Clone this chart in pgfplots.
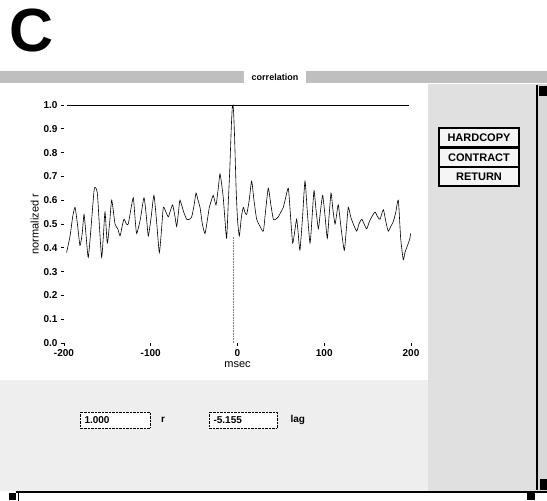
\documentclass[border=0pt]{standalone}
\usepackage{fontspec}
\setmainfont{Liberation Sans}
\usepackage{pgfplots}
\pgfplotsset{compat=1.18}
\pgfplotstableread{
ms v
-197 0.38
-193 0.45
-190 0.53
-187.3 0.57
-184.5 0.50
-181.6 0.41
-179 0.46
-176.9 0.54
-174.5 0.45
-172 0.36
-168.5 0.50
-165 0.65
-161.6 0.63
-159 0.48
-156.6 0.36
-154.6 0.45
-152.7 0.55
-150.1 0.42
-147.5 0.50
-145 0.60
-141.2 0.50
-138 0.48
-135.4 0.45
-133 0.49
-130.8 0.52
-128 0.50
-125.9 0.50
-123 0.56
-120.1 0.61
-118 0.52
-116.2 0.46
-112 0.52
-107.8 0.61
-105 0.53
-102.8 0.45
-99.5 0.53
-96.3 0.62
-93 0.50
-90.1 0.38
-87.5 0.48
-85.5 0.57
-82.5 0.55
-79.7 0.53
-77 0.56
-74.7 0.58
-72 0.53
-70.1 0.49
-68 0.55
-66.3 0.60
-62 0.55
-58.6 0.52
-55.5 0.52
-52.8 0.53
-50 0.58
-47.8 0.63
-45.5 0.60
-43.2 0.57
-40.5 0.50
-37.5 0.46
-35 0.51
-32.5 0.57
-30 0.60
-27.9 0.62
-24.8 0.58
-22.5 0.64
-20.2 0.71
-18 0.66
-16.4 0.61
-14.5 0.52
-12.5 0.44
-10.5 0.60
-9 0.72
-8 0.82
-7 0.92
-6 0.99
-5.2 1.00
-4.5 0.97
-3.5 0.88
-2.5 0.76
-1.5 0.64
0 0.52
2.1 0.45
4.5 0.53
6.7 0.57
8.5 0.55
10.6 0.54
13.5 0.60
16.3 0.68
19 0.60
22.1 0.52
26 0.49
29.8 0.47
32.5 0.56
35.5 0.65
38.5 0.58
41.3 0.52
44 0.52
47 0.53
50 0.55
52.8 0.57
55.5 0.61
58.6 0.65
61 0.54
63.6 0.42
66 0.47
68.2 0.52
70 0.46
72 0.39
75 0.53
77.8 0.68
80.5 0.55
83.6 0.42
86 0.53
88.2 0.64
90.5 0.56
93.2 0.48
95.5 0.55
98.2 0.62
101 0.53
103.5 0.44
105.5 0.53
107.8 0.63
110 0.56
112.4 0.50
114.3 0.54
116.2 0.58
119.5 0.48
123.1 0.39
125.5 0.48
127.7 0.57
130.5 0.53
133.5 0.50
137.4 0.47
140 0.50
143.2 0.52
146 0.50
148.9 0.48
152 0.51
154.7 0.53
158.5 0.55
161.5 0.53
164.3 0.52
168.1 0.56
171 0.51
173.8 0.47
176.7 0.49
179.6 0.51
182.5 0.55
185.4 0.60
188.1 0.44
191.1 0.35
193 0.38
195 0.40
197 0.42
198.8 0.44
199.5 0.46
}\corrdata
\begin{document}
\begin{tikzpicture}[x=1pt,y=1pt]
\useasboundingbox (0,0) rectangle (547,501);
\fill[white] (0,0) rectangle (547,501);
% background panels
\fill[gray!13] (0,10) rectangle (430,121);
\fill[gray!24] (428,10) rectangle (537,417);
\fill[gray!30] (537,10) rectangle (547,417);
% title bar
\fill[gray!50] (0,418) rectangle (547,430);
\fill[white] (244,417) rectangle (306,432);
\node[font=\bfseries\fontsize{9}{10}\selectfont] at (275,423.5) {correlation};
% scrollbar and frame
\draw[line width=1.6pt] (537,11) -- (537,416);
\fill[black] (539,405) rectangle (547,415);
\draw[line width=1.2pt] (16,9) -- (547,9);
\draw[line width=1pt] (18,0) -- (18,9);
\fill (9,1) rectangle (16,8);
\fill (527,1) rectangle (535,8);
\fill (540,11) rectangle (547,22);
% panel letter
\node[anchor=base west, inner sep=0, font=\bfseries\fontsize{61}{61}\selectfont] at (9,449) {C};
% buttons
\node[draw, line width=1.2pt, fill=gray!8, minimum width=80pt, minimum height=19pt, inner sep=0, font=\bfseries\fontsize{11}{12}\selectfont] at (479,363.5) {HARDCOPY};
\node[draw, line width=1.2pt, fill=gray!8, minimum width=80pt, minimum height=19pt, inner sep=0, font=\bfseries\fontsize{11}{12}\selectfont] at (479,343.5) {CONTRACT};
\node[draw, line width=1.2pt, fill=gray!8, minimum width=80pt, minimum height=19pt, inner sep=0, font=\bfseries\fontsize{11}{12}\selectfont] at (479,324.5) {RETURN};
% value boxes
\draw[densely dotted, fill=white] (80,73) rectangle (150,89);
\node[anchor=west, font=\bfseries\fontsize{10}{11}\selectfont] at (81,81) {1.000};
\node[font=\bfseries\fontsize{10}{11}\selectfont] at (163,81) {r};
\draw[densely dotted, fill=white] (209,73) rectangle (277,89);
\node[anchor=west, font=\bfseries\fontsize{10}{11}\selectfont] at (210,81) {-5.155};
\node[anchor=west, font=\bfseries\fontsize{10}{11}\selectfont] at (287,81) {lag};
% the chart
\begin{axis}[
  at={(64pt,158pt)}, anchor=south west,
  scale only axis, width=347pt, height=238pt,
  xmin=-200, xmax=200, ymin=0, ymax=1,
  axis line style={draw=none},
  xtick={-200,-100,0,100,200},
  ytick={0,0.1,0.2,0.3,0.4,0.5,0.6,0.7,0.8,0.9,1.0},
  tick align=outside, xtick pos=bottom, ytick pos=left,
  major tick length=3pt,
  tick style={black, semithick},
  /pgf/number format/assume math mode=true,
  tick label style={font=\bfseries\fontsize{10}{12}\selectfont},
  yticklabel style={/pgf/number format/.cd, fixed, fixed zerofill, precision=1},
  xlabel={msec},
  ylabel={normalized r},
  xlabel style={font=\fontsize{11}{12}\selectfont, yshift=2pt},
  ylabel style={font=\fontsize{11}{12}\selectfont, yshift=-2pt},
  clip=false,
]
\addplot[black, line width=0.6pt] coordinates {(-197,1) (198,1)};
\addplot[gray, densely dotted, line width=0.6pt] coordinates {(-5.155,0) (-5.155,0.45)};
\addplot[black, line width=0.6pt, smooth, tension=0.35] table[x=ms, y=v] {\corrdata};
\end{axis}
\end{tikzpicture}
\end{document}
